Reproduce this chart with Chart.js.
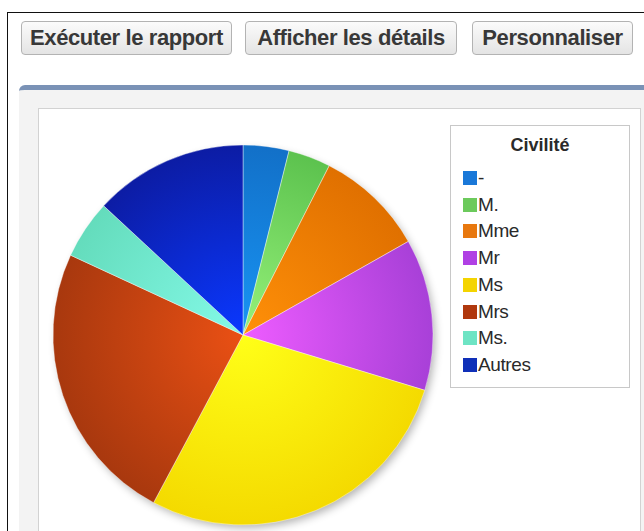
<!DOCTYPE html>
<html>
<head>
<meta charset="utf-8">
<script src="https://cdn.jsdelivr.net/npm/chart.js@4"></script>
<style>
  html, body { margin: 0; padding: 0; background: #fff; width: 644px; height: 531px; overflow: hidden; font-family: "Liberation Sans", Arial, sans-serif; }
  .frame { position: absolute; left: 7px; top: 12px; right: -2px; bottom: -2px; border-left: 1.5px solid #111; border-top: 1.5px solid #111; }
  .btn { position: absolute; top: 21px; height: 34px; box-sizing: border-box; border: 1px solid #b3b3b3; border-radius: 4px;
         background: linear-gradient(#fbfbfb, #e4e4e4); color: #383838; font-weight: bold; font-size: 22px; line-height: 32px; text-align: center; letter-spacing: -0.4px; white-space: nowrap; }
  .panel { position: absolute; left: 19px; top: 85px; right: 0; bottom: 0; background: #f3f3f3; border-top: 5px solid #7a92b6; border-top-left-radius: 6px; }
  .inner { position: absolute; left: 38px; top: 108px; width: 603px; bottom: -2px; background: #fff; border: 1px solid #d2d2d2; box-sizing: border-box; }
  #pie { position: absolute; left: 38px; top: 130px; }
  .legend { position: absolute; left: 450px; top: 125px; width: 180px; height: 263px; box-sizing: border-box; border: 1.5px solid #c8c8c8; background: #fff; color: #2a2a2a; }
  .legend .title { text-align: center; font-weight: bold; font-size: 18px; margin-top: 9px; height: 30px; }
  .legend .item { position: absolute; left: 12px; height: 22px; font-size: 19px; line-height: 22px; letter-spacing: -0.4px; }
  .legend .sw { display: inline-block; width: 14px; height: 14px; margin-right: 1px; vertical-align: -1px; }
</style>
</head>
<body>
<div class="frame"></div>
<div class="btn" style="left:21px;width:211px">Exécuter le rapport</div>
<div class="btn" style="left:245px;width:212px">Afficher les détails</div>
<div class="btn" style="left:472px;width:161px">Personnaliser</div>
<div class="panel"></div>
<div class="inner"></div>
<canvas id="pie" width="410" height="410"></canvas>
<div class="legend" id="legend"><div class="title">Civilité</div></div>
<script>
// Civilité share, in percent, read clockwise from 12 o'clock
const labels = ['-', 'M.', 'Mme', 'Mr', 'Ms', 'Mrs', 'Ms.', 'Autres']
const values = [3.9, 3.6, 9.3, 12.9, 28.1, 24.1, 5.0, 13.1]

const legendColors = ['#1a78d8', '#6cca5c', '#e8780e', '#b040e4', '#f4d400', '#b0380e', '#6ee4c4', '#1030b8']
const lightColors  = ['#1894f4', '#96f27a', '#ff9008', '#ee5cff', '#ffff18', '#ea5014', '#84fae8', '#0a38ff']
const darkColors   = ['#1270c8', '#5cc24e', '#e07000', '#a840d8', '#f4da00', '#a8380e', '#64dcbc', '#0c1ca4']

function sliceFill(ctx) {
  const area = ctx.chart.chartArea
  if (!area) return legendColors[ctx.dataIndex]
  const cx = (area.left + area.right) / 2
  const cy = (area.top + area.bottom) / 2
  const r = Math.min(area.right - area.left, area.bottom - area.top) / 2
  const g = ctx.chart.ctx.createRadialGradient(cx, cy, 0, cx, cy, r)
  g.addColorStop(0, lightColors[ctx.dataIndex])
  g.addColorStop(1, darkColors[ctx.dataIndex])
  return g
}

const shadowPlugin = {
  id: 'pieShadow',
  beforeDatasetsDraw(chart) {
    const arc = chart.getDatasetMeta(0).data[0]
    if (!arc) return
    const c = chart.ctx
    c.save()
    c.shadowColor = 'rgba(0,0,0,0.3)'
    c.shadowBlur = 8
    c.shadowOffsetX = 3
    c.shadowOffsetY = 4
    c.fillStyle = '#ddd'
    c.beginPath()
    c.arc(arc.x, arc.y, arc.outerRadius - 1, 0, Math.PI * 2)
    c.fill()
    c.restore()
  }
}

const chart = new Chart(document.getElementById('pie'), {
  type: 'pie',
  data: {
    labels: labels,
    datasets: [{
      data: values,
      backgroundColor: sliceFill,
      borderColor: 'rgba(255,255,255,0.4)',
      borderWidth: 1
    }]
  },
  options: {
    responsive: false,
    animation: false,
    layout: { padding: 14.5 },
    plugins: { legend: { display: false }, tooltip: { enabled: false } }
  },
  plugins: [shadowPlugin]
})

const legend = document.getElementById('legend')
labels.forEach((l, i) => {
  const item = document.createElement('div')
  item.className = 'item'
  item.style.top = (41 + i * 26.7) + 'px'
  item.innerHTML = `<span class="sw" style="background:${legendColors[i]}"></span>${l}`
  legend.appendChild(item)
})
</script>
</body>
</html>
